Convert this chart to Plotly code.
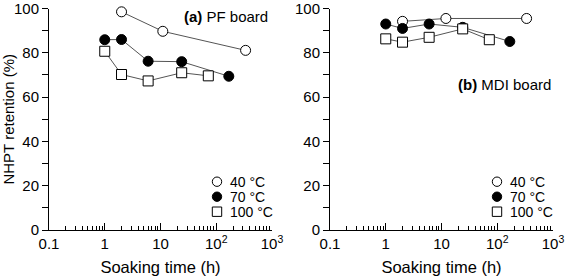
import plotly.graph_objects as go

# Data
pf_40_t = [2, 11, 336]
pf_40_v = [98.5, 89.7, 81.1]
pf_70_t = [1, 2, 6, 24, 168]
pf_70_v = [85.9, 86.0, 76.2, 76.0, 69.4]
pf_100_t = [1, 2, 6, 24, 72]
pf_100_v = [80.7, 70.2, 67.3, 71.0, 69.6]

mdi_40_t = [2, 12, 336]
mdi_40_v = [94.2, 95.5, 95.5]
mdi_70_t = [1, 2, 6, 24, 168]
mdi_70_v = [93.0, 91.0, 93.0, 91.5, 85.1]
mdi_100_t = [1, 2, 6, 24, 72]
mdi_100_v = [86.3, 84.8, 87.0, 90.8, 85.9]

series_names = ["40 °C", "70 °C", "100 °C"]
x_tickvals = [0.1, 1, 10, 100, 1000]
x_ticktext = ["0.1", "1", "10", "10<sup>2</sup>", "10<sup>3</sup>"]
y_tickvals = [0, 20, 40, 60, 80, 100]
y_minorvals = [10, 30, 50, 70, 90]

W, H = 568, 277
FONT = "Liberation Sans, Arial, sans-serif"

styles = [
    dict(symbol="circle", color="white"),
    dict(symbol="circle", color="black"),
    dict(symbol="square", color="white"),
]

fig = go.Figure()

panels = [
    ("x", "y", [(pf_40_t, pf_40_v), (pf_70_t, pf_70_v), (pf_100_t, pf_100_v)]),
    ("x2", "y2", [(mdi_40_t, mdi_40_v), (mdi_70_t, mdi_70_v), (mdi_100_t, mdi_100_v)]),
]

for xa, ya, data in panels:
    for (t, v), st, name in zip(data, styles, series_names):
        fig.add_trace(go.Scatter(
            x=t, y=v, xaxis=xa, yaxis=ya, mode="lines+markers",
            line=dict(color="#555555", width=1),
            marker=dict(symbol=st["symbol"], size=10, color=st["color"],
                        line=dict(color="black", width=1)),
            showlegend=False, cliponaxis=False, name=name,
        ))

def px_x(p):
    return p / W

def px_y(p):
    return 1 - p / H

Y_TOP, Y_BOT = 8.5, 230
xdom1 = [px_x(49), px_x(272)]
xdom2 = [px_x(330), px_x(553)]
ydom = [px_y(Y_BOT), px_y(Y_TOP)]

xaxis_common = dict(
    type="log", range=[-1, 3], tickmode="array", tickvals=x_tickvals, ticktext=x_ticktext,
    ticks="inside", ticklen=7, tickwidth=1, tickcolor="black",
    showline=True, linecolor="black", linewidth=1, showgrid=False, zeroline=False,
    minor=dict(ticks="inside", ticklen=4, tickwidth=1, tickcolor="black", dtick="D1", showgrid=False),
    tickfont=dict(size=15, color="black", family=FONT),
    ticklabeloverflow="allow",
    title=dict(text="Soaking time (h)", font=dict(size=16.5, color="black", family=FONT), standoff=10),
    automargin=False,
)
yaxis_common = dict(
    range=[0, 100], tickmode="array", tickvals=y_tickvals,
    ticks="outside", ticklen=6, tickwidth=1, tickcolor="black",
    showline=True, linecolor="black", linewidth=1, showgrid=False, zeroline=False,
    minor=dict(ticks="outside", ticklen=6, tickwidth=1, tickcolor="black",
               tickmode="array", tickvals=y_minorvals, showgrid=False),
    tickfont=dict(size=15, color="black", family=FONT),
    ticklabeloverflow="allow",
    automargin=False, domain=ydom,
)

# Legend (manual, to match the compact layout of the reference)
legend_y_px = [181.7, 196.7, 211.7]
legend_key_x_px = [217, 497]
shapes = []
annotations = []
for kx in legend_key_x_px:
    for st, name, ly in zip(styles, series_names, legend_y_px):
        r = 4.7
        shapes.append(dict(
            type="circle" if st["symbol"] == "circle" else "rect",
            xref="paper", yref="paper",
            x0=px_x(kx - r), x1=px_x(kx + r), y0=px_y(ly + r), y1=px_y(ly - r),
            fillcolor=st["color"], line=dict(color="black", width=1),
        ))
        annotations.append(dict(
            text=name, xref="paper", yref="paper", x=px_x(kx + 11), y=px_y(ly),
            xanchor="left", yanchor="middle", showarrow=False,
            font=dict(size=14, color="black", family=FONT),
        ))

annotations += [
    dict(text="<b>(a)</b> PF board", xref="paper", yref="paper",
         x=px_x(270), y=px_y(16), xanchor="right", yanchor="middle",
         showarrow=False, font=dict(size=15, color="black", family=FONT)),
    dict(text="<b>(b)</b> MDI board", xref="paper", yref="paper",
         x=px_x(553), y=px_y(84), xanchor="right", yanchor="middle",
         showarrow=False, font=dict(size=15, color="black", family=FONT)),
]

fig.update_layout(
    width=W, height=H,
    margin=dict(l=0, r=0, t=0, b=0),
    paper_bgcolor="white", plot_bgcolor="white",
    font=dict(family=FONT, color="black"),
    showlegend=False,
    xaxis=dict(xaxis_common, domain=xdom1, anchor="y"),
    yaxis=dict(yaxis_common, anchor="x",
               title=dict(text="NHPT retention (%)", font=dict(size=15, color="black", family=FONT), standoff=8)),
    xaxis2=dict(xaxis_common, domain=xdom2, anchor="y2"),
    yaxis2=dict(yaxis_common, anchor="x2"),
    shapes=shapes,
    annotations=annotations,
)

fig.write_html("out.html", config={"displayModeBar": False},
               post_script="document.body.style.margin='0';")
